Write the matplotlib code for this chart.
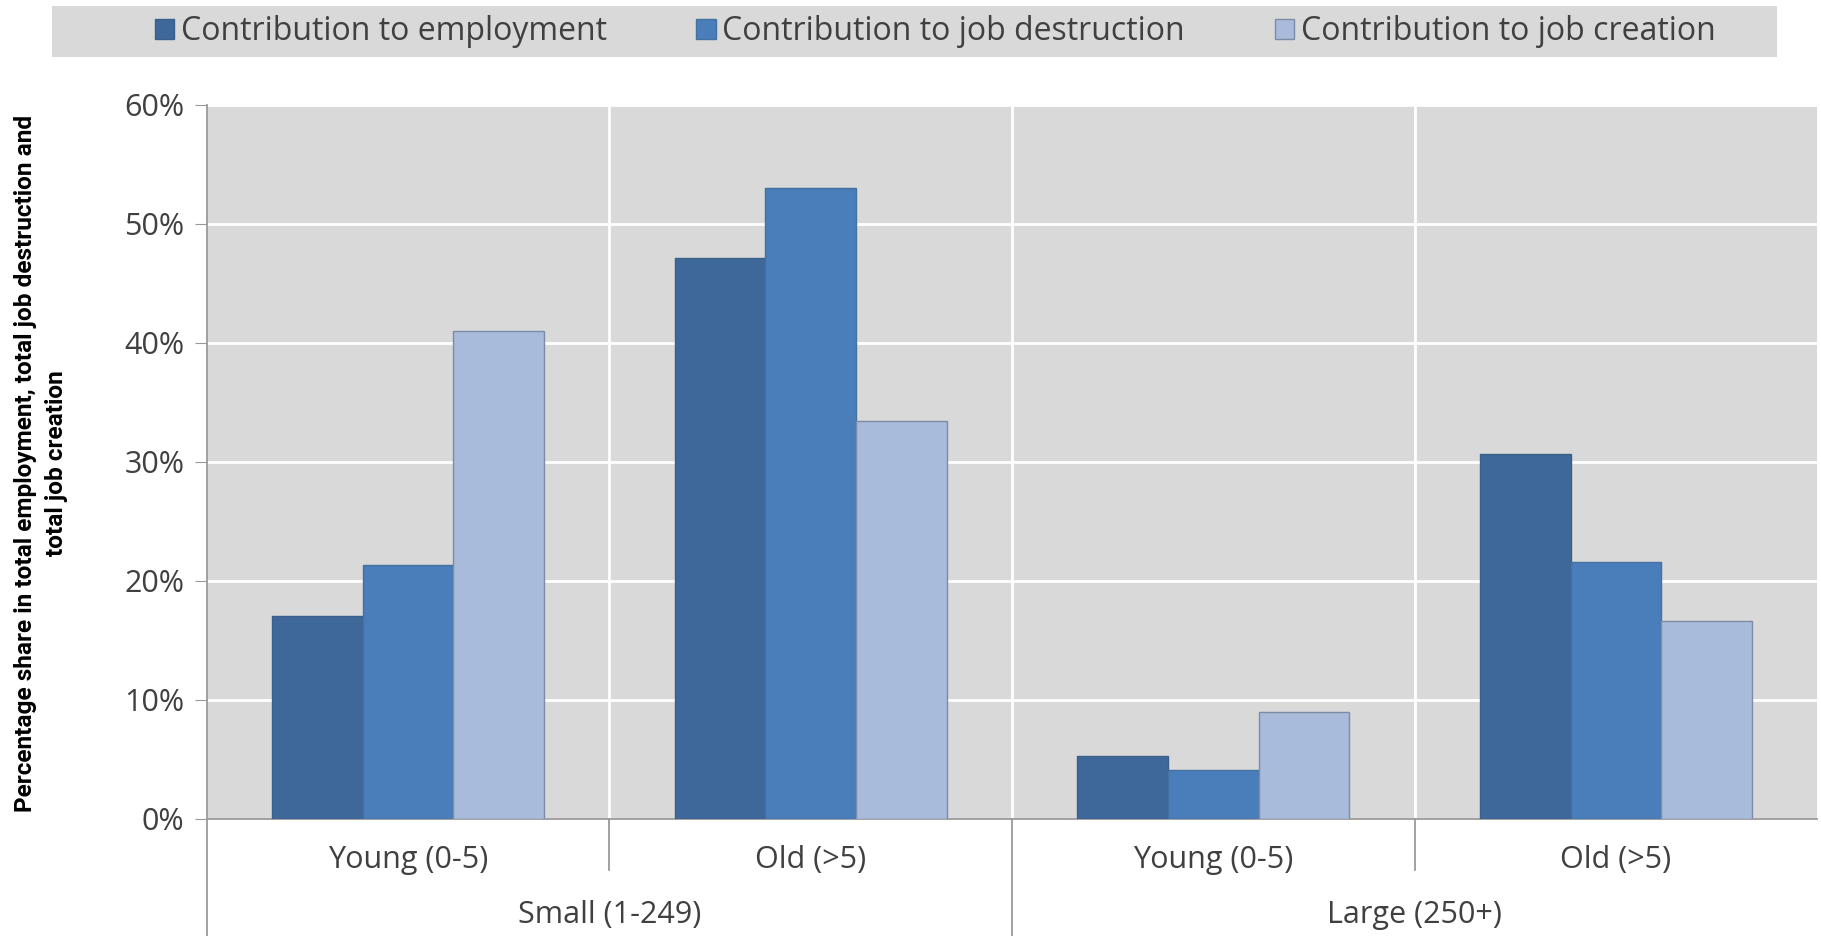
import numpy as np
import matplotlib
matplotlib.use("Agg")
from matplotlib import pyplot as plt
from matplotlib.patches import Rectangle

plt.rcParams['font.family'] = ['Open Sans', 'DejaVu Sans']

# data
sizes = ["Small (1-249)", "Large (250+)"]
ages = ["Young (0-5)", "Old (>5)", "Young (0-5)", "Old (>5)"]
series = ["Contribution to employment", "Contribution to job destruction",
          "Contribution to job creation"]
employment = [17.0, 47.1, 5.3, 30.6]
destruction = [21.3, 53.0, 4.1, 21.6]
creation = [41.0, 33.4, 9.0, 16.6]

colors = ['#3E6899', '#4A7EBB', '#A9BBDA']
edges = ['#3A5F8C', '#44729F', '#7C8BA6']

fig = plt.figure(figsize=(18.21, 9.36), dpi=100)
ax = fig.add_axes([0.1135, 0.1253, 0.8845, 0.763])
ax.set_facecolor('#D9D9D9')

x = np.arange(len(ages))
w = 0.225
for i, (vals, lab) in enumerate(zip([employment, destruction, creation], series)):
    ax.bar(x + (i - 1) * w, vals, w, color=colors[i], edgecolor=edges[i],
           linewidth=1, label=lab, zorder=3)

ax.set_xlim(-0.5, len(ages) - 0.5)
ax.set_ylim(0, 60)
ax.set_yticks(np.arange(0, 61, 10))
ax.set_yticklabels([f"{v}%" for v in range(0, 61, 10)])
ax.yaxis.grid(True, color='white', linewidth=2, zorder=0)
for b in [0.5, 1.5, 2.5]:
    ax.axvline(b, color='white', linewidth=2, zorder=0)

for s in ['top', 'right']:
    ax.spines[s].set_visible(False)
ax.spines['left'].set_color('#9A9A9A')
ax.spines['bottom'].set_color('#9A9A9A')
ax.spines['left'].set_linewidth(1.3)
ax.spines['bottom'].set_linewidth(1.3)
ax.tick_params(axis='y', length=9, color='#9A9A9A', labelsize=22,
               labelcolor='#404040', pad=7)
ax.tick_params(axis='x', length=0, labelsize=22, labelcolor='#404040', pad=19)
ax.set_xticks(x)
ax.set_xticklabels(ages)

# group separators below the axis
trans = ax.get_xaxis_transform()
for b in [0.5, 2.5]:
    ax.plot([b, b], [0, -0.072], color='#9A9A9A', lw=1.3, transform=trans,
            clip_on=False)
for b in [-0.5, 1.5]:
    ax.plot([b, b], [0, -0.165], color='#9A9A9A', lw=1.3, transform=trans,
            clip_on=False)
for j, name in enumerate(sizes):
    ax.text(2 * j + 0.5, -0.135, name, transform=trans, ha='center',
            va='center', fontsize=22, color='#404040')

fig.text(0.0225, 0.505, "Percentage share in total employment, total job destruction and\n"
         "total job creation", rotation=90, ha='center', va='center',
         fontsize=17.6, fontweight='bold', family=['Roboto', 'DejaVu Sans'],
         linespacing=1.4)

# legend strip
fig.patches.append(Rectangle((0.0287, 0.9392), 0.947, 0.0546, transform=fig.transFigure,
                             facecolor='#D9D9D9', edgecolor='none', zorder=0))
fig.legend(loc='center', bbox_to_anchor=(0.5135, 0.966), ncol=3, frameon=False,
           fontsize=23, handlelength=0.62, handleheight=0.62, handletextpad=0.2,
           columnspacing=2.8, labelcolor='#404040')

fig.savefig("out.png", dpi=100)
